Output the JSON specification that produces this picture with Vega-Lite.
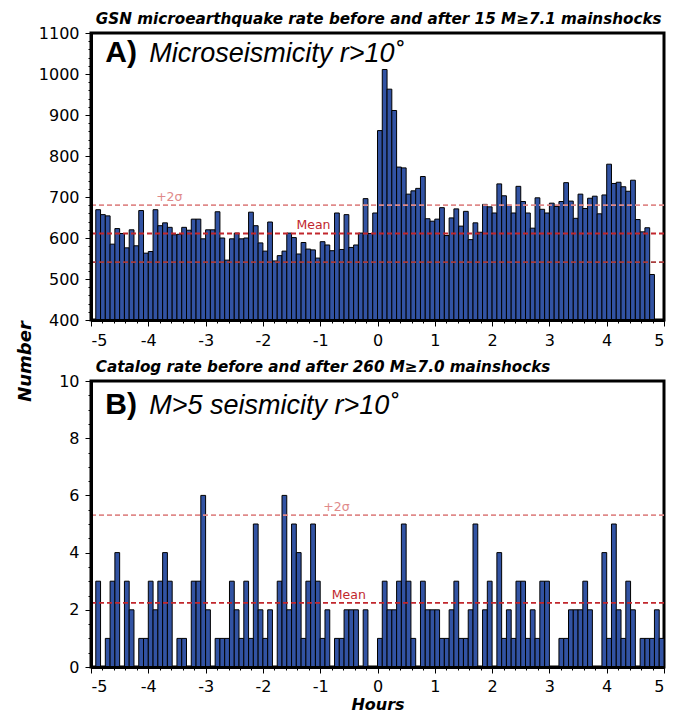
{
  "$schema": "https://vega.github.io/schema/vega-lite/v6.json",
  "background": "white",
  "padding": {"left": 14, "top": 10, "right": 5, "bottom": 0},
  "config": {
    "view": {"stroke": "black", "strokeWidth": 3},
    "font": "DejaVu Sans",
    "axis": {"labelFont": "DejaVu Sans", "labelFontSize": 16, "labelColor": "black", "tickColor": "black", "domainColor": "black", "grid": false, "tickWidth": 1}
  },
  "datasets": {
    "gsn": [
      {"m0": -295, "m1": -290, "n": 669}, {"m0": -290, "m1": -285, "n": 657}, {"m0": -285, "m1": -280, "n": 654}, {"m0": -280, "m1": -275, "n": 585},
      {"m0": -275, "m1": -270, "n": 623}, {"m0": -270, "m1": -265, "n": 611}, {"m0": -265, "m1": -260, "n": 576}, {"m0": -260, "m1": -255, "n": 620},
      {"m0": -255, "m1": -250, "n": 581}, {"m0": -250, "m1": -245, "n": 667}, {"m0": -245, "m1": -240, "n": 563}, {"m0": -240, "m1": -235, "n": 567},
      {"m0": -235, "m1": -230, "n": 669}, {"m0": -230, "m1": -225, "n": 630}, {"m0": -225, "m1": -220, "n": 637}, {"m0": -220, "m1": -215, "n": 626},
      {"m0": -215, "m1": -210, "n": 608}, {"m0": -210, "m1": -205, "n": 609}, {"m0": -205, "m1": -200, "n": 626}, {"m0": -200, "m1": -195, "n": 619},
      {"m0": -195, "m1": -190, "n": 646}, {"m0": -190, "m1": -185, "n": 646}, {"m0": -185, "m1": -180, "n": 598}, {"m0": -180, "m1": -175, "n": 620},
      {"m0": -175, "m1": -170, "n": 620}, {"m0": -170, "m1": -165, "n": 664}, {"m0": -165, "m1": -160, "n": 600}, {"m0": -160, "m1": -155, "n": 546},
      {"m0": -155, "m1": -150, "n": 598}, {"m0": -150, "m1": -145, "n": 612}, {"m0": -145, "m1": -140, "n": 598}, {"m0": -140, "m1": -135, "n": 600},
      {"m0": -135, "m1": -130, "n": 663}, {"m0": -130, "m1": -125, "n": 630}, {"m0": -125, "m1": -120, "n": 588}, {"m0": -120, "m1": -115, "n": 568},
      {"m0": -115, "m1": -110, "n": 639}, {"m0": -110, "m1": -105, "n": 544}, {"m0": -105, "m1": -100, "n": 557}, {"m0": -100, "m1": -95, "n": 568},
      {"m0": -95, "m1": -90, "n": 612}, {"m0": -90, "m1": -85, "n": 601}, {"m0": -85, "m1": -80, "n": 561}, {"m0": -80, "m1": -75, "n": 589},
      {"m0": -75, "m1": -70, "n": 573}, {"m0": -70, "m1": -65, "n": 571}, {"m0": -65, "m1": -60, "n": 551}, {"m0": -60, "m1": -55, "n": 591},
      {"m0": -55, "m1": -50, "n": 583}, {"m0": -50, "m1": -45, "n": 569}, {"m0": -45, "m1": -40, "n": 661}, {"m0": -40, "m1": -35, "n": 572},
      {"m0": -35, "m1": -30, "n": 657}, {"m0": -30, "m1": -25, "n": 577}, {"m0": -25, "m1": -20, "n": 583}, {"m0": -20, "m1": -15, "n": 612},
      {"m0": -15, "m1": -10, "n": 696}, {"m0": -10, "m1": -5, "n": 611}, {"m0": -5, "m1": 0, "n": 661}, {"m0": 0, "m1": 5, "n": 862},
      {"m0": 5, "m1": 10, "n": 1011}, {"m0": 10, "m1": 15, "n": 963}, {"m0": 15, "m1": 20, "n": 911}, {"m0": 20, "m1": 25, "n": 773},
      {"m0": 25, "m1": 30, "n": 771}, {"m0": 30, "m1": 35, "n": 707}, {"m0": 35, "m1": 40, "n": 715}, {"m0": 40, "m1": 45, "n": 721},
      {"m0": 45, "m1": 50, "n": 750}, {"m0": 50, "m1": 55, "n": 647}, {"m0": 55, "m1": 60, "n": 641}, {"m0": 60, "m1": 65, "n": 646},
      {"m0": 65, "m1": 70, "n": 674}, {"m0": 70, "m1": 75, "n": 606}, {"m0": 75, "m1": 80, "n": 649}, {"m0": 80, "m1": 85, "n": 671},
      {"m0": 85, "m1": 90, "n": 629}, {"m0": 90, "m1": 95, "n": 665}, {"m0": 95, "m1": 100, "n": 596}, {"m0": 100, "m1": 105, "n": 637},
      {"m0": 105, "m1": 110, "n": 614}, {"m0": 110, "m1": 115, "n": 682}, {"m0": 115, "m1": 120, "n": 676}, {"m0": 120, "m1": 125, "n": 661},
      {"m0": 125, "m1": 130, "n": 732}, {"m0": 130, "m1": 135, "n": 703}, {"m0": 135, "m1": 140, "n": 680}, {"m0": 140, "m1": 145, "n": 661},
      {"m0": 145, "m1": 150, "n": 726}, {"m0": 150, "m1": 155, "n": 689}, {"m0": 155, "m1": 160, "n": 661}, {"m0": 160, "m1": 165, "n": 624},
      {"m0": 165, "m1": 170, "n": 698}, {"m0": 170, "m1": 175, "n": 670}, {"m0": 175, "m1": 180, "n": 661}, {"m0": 180, "m1": 185, "n": 685},
      {"m0": 185, "m1": 190, "n": 677}, {"m0": 190, "m1": 195, "n": 689}, {"m0": 195, "m1": 200, "n": 735}, {"m0": 200, "m1": 205, "n": 690},
      {"m0": 205, "m1": 210, "n": 648}, {"m0": 210, "m1": 215, "n": 707}, {"m0": 215, "m1": 220, "n": 672}, {"m0": 220, "m1": 225, "n": 697},
      {"m0": 225, "m1": 230, "n": 702}, {"m0": 230, "m1": 235, "n": 659}, {"m0": 235, "m1": 240, "n": 705}, {"m0": 240, "m1": 245, "n": 780},
      {"m0": 245, "m1": 250, "n": 733}, {"m0": 250, "m1": 255, "n": 736}, {"m0": 255, "m1": 260, "n": 725}, {"m0": 260, "m1": 265, "n": 714},
      {"m0": 265, "m1": 270, "n": 741}, {"m0": 270, "m1": 275, "n": 645}, {"m0": 275, "m1": 280, "n": 615}, {"m0": 280, "m1": 285, "n": 625},
      {"m0": 285, "m1": 290, "n": 511}
    ],
    "cat": [
      {"m0": -295, "m1": -290, "n": 3}, {"m0": -290, "m1": -285, "n": 0}, {"m0": -285, "m1": -280, "n": 1}, {"m0": -280, "m1": -275, "n": 3},
      {"m0": -275, "m1": -270, "n": 4}, {"m0": -270, "m1": -265, "n": 0}, {"m0": -265, "m1": -260, "n": 3}, {"m0": -260, "m1": -255, "n": 2},
      {"m0": -255, "m1": -250, "n": 0}, {"m0": -250, "m1": -245, "n": 1}, {"m0": -245, "m1": -240, "n": 1}, {"m0": -240, "m1": -235, "n": 3},
      {"m0": -235, "m1": -230, "n": 2}, {"m0": -230, "m1": -225, "n": 3}, {"m0": -225, "m1": -220, "n": 4}, {"m0": -220, "m1": -215, "n": 3},
      {"m0": -215, "m1": -210, "n": 0}, {"m0": -210, "m1": -205, "n": 1}, {"m0": -205, "m1": -200, "n": 1}, {"m0": -200, "m1": -195, "n": 0},
      {"m0": -195, "m1": -190, "n": 3}, {"m0": -190, "m1": -185, "n": 3}, {"m0": -185, "m1": -180, "n": 6}, {"m0": -180, "m1": -175, "n": 2},
      {"m0": -175, "m1": -170, "n": 0}, {"m0": -170, "m1": -165, "n": 1}, {"m0": -165, "m1": -160, "n": 1}, {"m0": -160, "m1": -155, "n": 1},
      {"m0": -155, "m1": -150, "n": 3}, {"m0": -150, "m1": -145, "n": 2}, {"m0": -145, "m1": -140, "n": 1}, {"m0": -140, "m1": -135, "n": 3},
      {"m0": -135, "m1": -130, "n": 1}, {"m0": -130, "m1": -125, "n": 5}, {"m0": -125, "m1": -120, "n": 2}, {"m0": -120, "m1": -115, "n": 1},
      {"m0": -115, "m1": -110, "n": 2}, {"m0": -110, "m1": -105, "n": 0}, {"m0": -105, "m1": -100, "n": 3}, {"m0": -100, "m1": -95, "n": 6},
      {"m0": -95, "m1": -90, "n": 2}, {"m0": -90, "m1": -85, "n": 5}, {"m0": -85, "m1": -80, "n": 4}, {"m0": -80, "m1": -75, "n": 1},
      {"m0": -75, "m1": -70, "n": 3}, {"m0": -70, "m1": -65, "n": 5}, {"m0": -65, "m1": -60, "n": 3}, {"m0": -60, "m1": -55, "n": 1},
      {"m0": -55, "m1": -50, "n": 2}, {"m0": -50, "m1": -45, "n": 0}, {"m0": -45, "m1": -40, "n": 1}, {"m0": -40, "m1": -35, "n": 1},
      {"m0": -35, "m1": -30, "n": 2}, {"m0": -30, "m1": -25, "n": 2}, {"m0": -25, "m1": -20, "n": 2}, {"m0": -20, "m1": -15, "n": 0},
      {"m0": -15, "m1": -10, "n": 2}, {"m0": -10, "m1": -5, "n": 0}, {"m0": -5, "m1": 0, "n": 0}, {"m0": 0, "m1": 5, "n": 1},
      {"m0": 5, "m1": 10, "n": 3}, {"m0": 10, "m1": 15, "n": 2}, {"m0": 15, "m1": 20, "n": 2}, {"m0": 20, "m1": 25, "n": 3},
      {"m0": 25, "m1": 30, "n": 5}, {"m0": 30, "m1": 35, "n": 3}, {"m0": 35, "m1": 40, "n": 1}, {"m0": 40, "m1": 45, "n": 0},
      {"m0": 45, "m1": 50, "n": 3}, {"m0": 50, "m1": 55, "n": 2}, {"m0": 55, "m1": 60, "n": 2}, {"m0": 60, "m1": 65, "n": 2},
      {"m0": 65, "m1": 70, "n": 1}, {"m0": 70, "m1": 75, "n": 1}, {"m0": 75, "m1": 80, "n": 2}, {"m0": 80, "m1": 85, "n": 3},
      {"m0": 85, "m1": 90, "n": 1}, {"m0": 90, "m1": 95, "n": 1}, {"m0": 95, "m1": 100, "n": 2}, {"m0": 100, "m1": 105, "n": 5},
      {"m0": 105, "m1": 110, "n": 0}, {"m0": 110, "m1": 115, "n": 2}, {"m0": 115, "m1": 120, "n": 3}, {"m0": 120, "m1": 125, "n": 0},
      {"m0": 125, "m1": 130, "n": 4}, {"m0": 130, "m1": 135, "n": 1}, {"m0": 135, "m1": 140, "n": 2}, {"m0": 140, "m1": 145, "n": 1},
      {"m0": 145, "m1": 150, "n": 3}, {"m0": 150, "m1": 155, "n": 3}, {"m0": 155, "m1": 160, "n": 1}, {"m0": 160, "m1": 165, "n": 2},
      {"m0": 165, "m1": 170, "n": 1}, {"m0": 170, "m1": 175, "n": 3}, {"m0": 175, "m1": 180, "n": 3}, {"m0": 180, "m1": 185, "n": 0},
      {"m0": 185, "m1": 190, "n": 0}, {"m0": 190, "m1": 195, "n": 1}, {"m0": 195, "m1": 200, "n": 1}, {"m0": 200, "m1": 205, "n": 2},
      {"m0": 205, "m1": 210, "n": 2}, {"m0": 210, "m1": 215, "n": 2}, {"m0": 215, "m1": 220, "n": 3}, {"m0": 220, "m1": 225, "n": 2},
      {"m0": 225, "m1": 230, "n": 0}, {"m0": 230, "m1": 235, "n": 0}, {"m0": 235, "m1": 240, "n": 4}, {"m0": 240, "m1": 245, "n": 1},
      {"m0": 245, "m1": 250, "n": 5}, {"m0": 250, "m1": 255, "n": 2}, {"m0": 255, "m1": 260, "n": 1}, {"m0": 260, "m1": 265, "n": 3},
      {"m0": 265, "m1": 270, "n": 2}, {"m0": 270, "m1": 275, "n": 0}, {"m0": 275, "m1": 280, "n": 1}, {"m0": 280, "m1": 285, "n": 1},
      {"m0": 285, "m1": 290, "n": 1}, {"m0": 290, "m1": 295, "n": 2}, {"m0": 295, "m1": 300, "n": 1}
    ],
    "gsnLines": [{"level": "+2σ", "value": 680}, {"level": "Mean", "value": 611}, {"level": "-2σ", "value": 541}],
    "catLines": [{"level": "+2σ", "value": 5.31}, {"level": "Mean", "value": 2.24}]
  },
  "spacing": 61,
  "bounds": "flush",
  "vconcat": [
    {
      "width": 573,
      "height": 287,
      "layer": [
        {
          "data": {"name": "gsn"},
          "mark": {"type": "bar", "fill": "#3253a3", "stroke": "black", "strokeWidth": 1, "clip": true},
          "encoding": {
            "x": {"field": "m0", "type": "quantitative", "scale": {"domain": [-300, 300], "nice": false, "zero": false},
              "axis": {"orient": "bottom", "values": [-300, -240, -180, -120, -60, 0, 60, 120, 180, 240, 300], "labelExpr": "'' + (datum.value / 60)", "tickSize": 6, "domainWidth": 3, "zindex": 1, "title": null, "labelPadding": 6}},
            "x2": {"field": "m1"},
            "y": {"field": "n", "type": "quantitative", "scale": {"domain": [400, 1100], "nice": false, "zero": false},
              "axis": {"orient": "left", "values": [400, 500, 600, 700, 800, 900, 1000, 1100], "labelExpr": "'' + datum.value", "tickSize": 6, "domainWidth": 3, "zindex": 1, "labelPadding": 6,
                "title": "Number", "titleX": -66, "titleY": 328, "titleAngle": 270, "titleAlign": "center", "titleBaseline": "middle", "titleFont": "DejaVu Sans", "titleFontSize": 18, "titleFontWeight": "bold", "titleFontStyle": "italic", "titleColor": "black"}},
            "y2": {"datum": 400}
          }
        },
        {
          "data": {"name": "gsn"},
          "mark": {"type": "bar", "opacity": 0},
          "encoding": {
            "x": {"field": "m0", "type": "quantitative",
              "axis": {"orient": "bottom", "values": [-300,-288,-276,-264,-252,-240,-228,-216,-204,-192,-180,-168,-156,-144,-132,-120,-108,-96,-84,-72,-60,-48,-36,-24,-12,0,12,24,36,48,60,72,84,96,108,120,132,144,156,168,180,192,204,216,228,240,252,264,276,288,300], "labels": false, "domain": false, "tickSize": 3, "title": null, "zindex": 1}},
            "x2": {"field": "m1"},
            "y": {"field": "n", "type": "quantitative",
              "axis": {"orient": "left", "values": [400,420,440,460,480,500,520,540,560,580,600,620,640,660,680,700,720,740,760,780,800,820,840,860,880,900,920,940,960,980,1000,1020,1040,1060,1080,1100], "labels": false, "domain": false, "tickSize": 3, "title": null, "zindex": 1}},
            "y2": {"datum": 400}
          }
        },
        {
          "data": {"name": "gsnLines"},
          "mark": {"type": "rule", "strokeDash": [5, 3], "strokeWidth": 1.8},
          "encoding": {
            "y": {"field": "value", "type": "quantitative", "axis": null},
            "color": {"field": "level", "type": "nominal", "scale": {"domain": ["+2σ", "Mean", "-2σ"], "range": ["#e08a8a", "#c1272d", "#a83c3c"]}, "legend": null}
          }
        },
        {
          "data": {"name": "gsnLines"},
          "transform": [{"filter": "datum.level == '+2σ'"}],
          "mark": {"type": "text", "font": "DejaVu Sans", "fontSize": 12.5, "color": "#e08a8a", "dy": -4, "baseline": "alphabetic", "align": "center"},
          "encoding": {"x": {"datum": -218, "type": "quantitative", "axis": null}, "y": {"field": "value", "type": "quantitative", "axis": null}, "text": {"field": "level"}}
        },
        {
          "data": {"name": "gsnLines"},
          "transform": [{"filter": "datum.level == 'Mean'"}],
          "mark": {"type": "text", "font": "DejaVu Sans", "fontSize": 12.5, "color": "#c1272d", "dy": -4, "baseline": "alphabetic", "align": "center"},
          "encoding": {"x": {"datum": -67, "type": "quantitative", "axis": null}, "y": {"field": "value", "type": "quantitative", "axis": null}, "text": {"field": "level"}}
        },
        {
          "data": {"values": [{}]},
          "mark": {"type": "text", "text": "GSN microearthquake rate before and after 15 M≥7.1 mainshocks", "font": "DejaVu Sans", "fontSize": 15.2, "fontWeight": "bold", "fontStyle": "italic", "align": "left", "baseline": "alphabetic", "color": "black"},
          "encoding": {"x": {"datum": -295, "type": "quantitative", "axis": null}, "y": {"datum": 1122, "type": "quantitative", "axis": null}}
        },
        {
          "data": {"values": [{}]},
          "mark": {"type": "text", "text": "A)", "font": "Liberation Sans", "fontSize": 30, "fontWeight": "bold", "align": "left", "baseline": "alphabetic", "color": "black"},
          "encoding": {"x": {"datum": -285, "type": "quantitative", "axis": null}, "y": {"datum": 1029, "type": "quantitative", "axis": null}}
        },
        {
          "data": {"values": [{}]},
          "mark": {"type": "text", "text": "Microseismicity r>10˚", "font": "Liberation Sans", "fontSize": 27, "fontStyle": "italic", "align": "left", "baseline": "alphabetic", "color": "black"},
          "encoding": {"x": {"datum": -239, "type": "quantitative", "axis": null}, "y": {"datum": 1029, "type": "quantitative", "axis": null}}
        }
      ],
      "resolve": {"axis": {"x": "independent", "y": "independent"}}
    },
    {
      "width": 573,
      "height": 286,
      "layer": [
        {
          "data": {"name": "cat"},
          "mark": {"type": "bar", "fill": "#3253a3", "stroke": "black", "strokeWidth": 1, "clip": true},
          "encoding": {
            "x": {"field": "m0", "type": "quantitative", "scale": {"domain": [-300, 300], "nice": false, "zero": false},
              "axis": {"orient": "bottom", "values": [-300, -240, -180, -120, -60, 0, 60, 120, 180, 240, 300], "labelExpr": "'' + (datum.value / 60)", "tickSize": 6, "domainWidth": 3, "zindex": 1, "labelPadding": 5,
                "title": "Hours", "titleFont": "DejaVu Sans", "titleFontSize": 16, "titleFontWeight": "bold", "titleFontStyle": "italic", "titleColor": "black", "titlePadding": 2}},
            "x2": {"field": "m1"},
            "y": {"field": "n", "type": "quantitative", "scale": {"domain": [0, 10], "nice": false},
              "axis": {"orient": "left", "values": [0, 2, 4, 6, 8, 10], "tickSize": 6, "domainWidth": 3, "zindex": 1, "labelPadding": 6, "title": null}},
            "y2": {"datum": 0}
          }
        },
        {
          "data": {"name": "cat"},
          "mark": {"type": "bar", "opacity": 0},
          "encoding": {
            "x": {"field": "m0", "type": "quantitative",
              "axis": {"orient": "bottom", "values": [-300,-288,-276,-264,-252,-240,-228,-216,-204,-192,-180,-168,-156,-144,-132,-120,-108,-96,-84,-72,-60,-48,-36,-24,-12,0,12,24,36,48,60,72,84,96,108,120,132,144,156,168,180,192,204,216,228,240,252,264,276,288,300], "labels": false, "domain": false, "tickSize": 3, "title": null, "zindex": 1}},
            "x2": {"field": "m1"},
            "y": {"field": "n", "type": "quantitative",
              "axis": {"orient": "left", "values": [0,0.5,1,1.5,2,2.5,3,3.5,4,4.5,5,5.5,6,6.5,7,7.5,8,8.5,9,9.5,10], "labels": false, "domain": false, "tickSize": 3, "title": null, "zindex": 1}},
            "y2": {"datum": 0}
          }
        },
        {
          "data": {"name": "catLines"},
          "mark": {"type": "rule", "strokeDash": [5, 3], "strokeWidth": 1.8},
          "encoding": {
            "y": {"field": "value", "type": "quantitative", "axis": null},
            "color": {"field": "level", "type": "nominal", "scale": {"domain": ["+2σ", "Mean", "-2σ"], "range": ["#e08a8a", "#c1272d", "#a83c3c"]}, "legend": null}
          }
        },
        {
          "data": {"name": "catLines"},
          "transform": [{"filter": "datum.level == '+2σ'"}],
          "mark": {"type": "text", "font": "DejaVu Sans", "fontSize": 12.5, "color": "#e08a8a", "dy": -4, "baseline": "alphabetic", "align": "center"},
          "encoding": {"x": {"datum": -43, "type": "quantitative", "axis": null}, "y": {"field": "value", "type": "quantitative", "axis": null}, "text": {"field": "level"}}
        },
        {
          "data": {"name": "catLines"},
          "transform": [{"filter": "datum.level == 'Mean'"}],
          "mark": {"type": "text", "font": "DejaVu Sans", "fontSize": 12.5, "color": "#c1272d", "dy": -4, "baseline": "alphabetic", "align": "center"},
          "encoding": {"x": {"datum": -30, "type": "quantitative", "axis": null}, "y": {"field": "value", "type": "quantitative", "axis": null}, "text": {"field": "level"}}
        },
        {
          "data": {"values": [{}]},
          "mark": {"type": "text", "text": "Catalog rate before and after 260 M≥7.0 mainshocks", "font": "DejaVu Sans", "fontSize": 15.2, "fontWeight": "bold", "fontStyle": "italic", "align": "left", "baseline": "alphabetic", "color": "black"},
          "encoding": {"x": {"datum": -295, "type": "quantitative", "axis": null}, "y": {"datum": 10.3, "type": "quantitative", "axis": null}}
        },
        {
          "data": {"values": [{}]},
          "mark": {"type": "text", "text": "B)", "font": "Liberation Sans", "fontSize": 30, "fontWeight": "bold", "align": "left", "baseline": "alphabetic", "color": "black"},
          "encoding": {"x": {"datum": -285, "type": "quantitative", "axis": null}, "y": {"datum": 8.84, "type": "quantitative", "axis": null}}
        },
        {
          "data": {"values": [{}]},
          "mark": {"type": "text", "text": "M>5 seismicity r>10˚", "font": "Liberation Sans", "fontSize": 27, "fontStyle": "italic", "align": "left", "baseline": "alphabetic", "color": "black"},
          "encoding": {"x": {"datum": -239, "type": "quantitative", "axis": null}, "y": {"datum": 8.84, "type": "quantitative", "axis": null}}
        }
      ],
      "resolve": {"axis": {"x": "independent", "y": "independent"}}
    }
  ]
}
